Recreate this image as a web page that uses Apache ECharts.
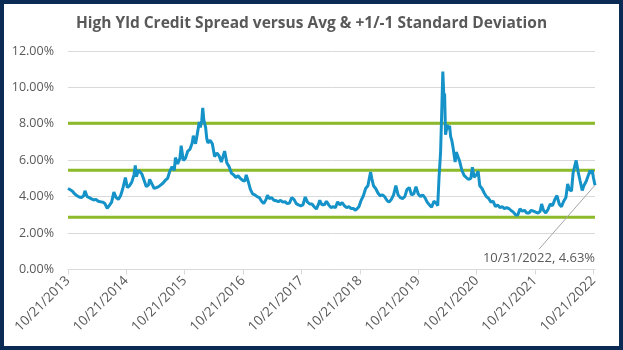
<!DOCTYPE html>
<html>
<head>
<meta charset="utf-8">
<script src="https://cdn.jsdelivr.net/npm/echarts@6/dist/echarts.min.js"></script>
<style>
  html, body { margin: 0; padding: 0; background: #ffffff; }
  #wrap { position: relative; width: 623px; height: 350px; }
  #chart { position: absolute; left: 0; top: 0; width: 623px; height: 350px; }
  #frame { position: absolute; left: 0; top: 0; width: 623px; height: 350px;
           box-sizing: border-box; border: 4px solid #0b2b55; pointer-events: none; }
</style>
</head>
<body>
<div id="wrap">
  <div id="chart"></div>
  <div id="frame"></div>
</div>
<script>
// High-yield option-adjusted spread, percent (roughly bi-weekly readings)
const dates = [
  '2013-10-21','2013-11-04','2013-11-18','2013-12-02','2013-12-16','2013-12-30',
  '2014-01-13','2014-01-27','2014-02-04','2014-02-18','2014-03-03','2014-03-17','2014-03-31',
  '2014-04-14','2014-04-28','2014-05-12','2014-05-26','2014-06-09','2014-06-23','2014-07-07',
  '2014-07-21','2014-08-04','2014-08-18','2014-09-01','2014-09-15','2014-09-29','2014-10-06',
  '2014-10-15','2014-10-27','2014-11-10','2014-11-24','2014-12-08','2014-12-16','2014-12-23',
  '2015-01-05','2015-01-15','2015-01-26','2015-02-09','2015-02-23','2015-03-09','2015-03-16',
  '2015-03-30','2015-04-13','2015-04-27','2015-05-11','2015-05-25','2015-06-08','2015-06-22',
  '2015-07-06','2015-07-20','2015-08-03','2015-08-17','2015-08-24','2015-09-07','2015-09-21',
  '2015-09-29','2015-10-12','2015-10-26','2015-11-09','2015-11-23','2015-12-07','2015-12-14',
  '2015-12-28','2016-01-11','2016-01-20','2016-01-27','2016-02-05','2016-02-11','2016-02-18',
  '2016-02-29','2016-03-07','2016-03-14','2016-03-28','2016-04-11','2016-04-25','2016-05-09',
  '2016-05-23','2016-06-06','2016-06-27','2016-07-11','2016-07-25','2016-08-08','2016-08-22',
  '2016-09-05','2016-09-19','2016-10-03','2016-10-17','2016-10-31','2016-11-09','2016-11-21',
  '2016-12-05','2016-12-19','2017-01-02','2017-01-16','2017-01-30','2017-02-13','2017-02-27',
  '2017-03-13','2017-03-22','2017-04-03','2017-04-17','2017-05-01','2017-05-15','2017-05-29',
  '2017-06-12','2017-06-26','2017-07-10','2017-07-24','2017-08-07','2017-08-21','2017-09-04',
  '2017-09-18','2017-10-02','2017-10-16','2017-10-30','2017-11-13','2017-11-27','2017-12-11',
  '2017-12-25','2018-01-08','2018-01-22','2018-02-05','2018-02-12','2018-02-26','2018-03-12',
  '2018-03-26','2018-04-09','2018-04-23','2018-05-07','2018-05-21','2018-06-04','2018-06-18',
  '2018-07-02','2018-07-16','2018-07-30','2018-08-13','2018-08-27','2018-09-10','2018-09-24',
  '2018-10-03','2018-10-15','2018-10-29','2018-11-12','2018-11-26','2018-12-10','2018-12-27',
  '2019-01-04','2019-01-14','2019-01-28','2019-02-11','2019-02-25','2019-03-11','2019-03-25',
  '2019-04-08','2019-04-22','2019-05-06','2019-05-20','2019-06-03','2019-06-17','2019-07-01',
  '2019-07-15','2019-07-29','2019-08-12','2019-08-26','2019-09-09','2019-09-23','2019-10-07',
  '2019-10-21','2019-11-04','2019-11-18','2019-12-02','2019-12-16','2019-12-30','2020-01-13',
  '2020-01-27','2020-02-10','2020-02-20','2020-02-28','2020-03-09','2020-03-16','2020-03-23',
  '2020-03-30','2020-04-03','2020-04-09','2020-04-20','2020-04-27','2020-05-04','2020-05-11',
  '2020-05-18','2020-05-26','2020-06-08','2020-06-15','2020-06-26','2020-07-06','2020-07-20',
  '2020-08-03','2020-08-17','2020-08-31','2020-09-14','2020-09-24','2020-10-05','2020-10-19',
  '2020-10-30','2020-11-09','2020-11-23','2020-12-07','2020-12-21','2021-01-04','2021-01-18',
  '2021-02-01','2021-02-15','2021-03-01','2021-03-15','2021-03-29','2021-04-12','2021-04-26',
  '2021-05-10','2021-05-24','2021-06-07','2021-06-21','2021-07-05','2021-07-19','2021-08-02',
  '2021-08-16','2021-08-30','2021-09-13','2021-09-27','2021-10-11','2021-10-25','2021-11-08',
  '2021-11-22','2021-12-01','2021-12-13','2021-12-27','2022-01-10','2022-01-24','2022-02-07',
  '2022-02-22','2022-03-07','2022-03-21','2022-04-04','2022-04-18','2022-05-02','2022-05-13',
  '2022-05-23','2022-06-06','2022-06-16','2022-06-27','2022-07-05','2022-07-18','2022-07-29',
  '2022-08-12','2022-08-22','2022-09-06','2022-09-16','2022-09-30','2022-10-07','2022-10-14',
  '2022-10-21','2022-10-31'
];
const spread = [
  4.45,4.38,4.30,4.15,4.05,3.98,
  3.95,4.05,4.32,4.00,3.95,3.88,3.82,
  3.85,3.75,3.72,3.70,3.62,3.36,3.52,
  3.70,4.25,3.95,3.85,4.05,4.45,4.35,
  5.05,4.50,4.60,4.80,5.20,5.72,5.10,
  5.45,5.40,5.25,4.90,4.55,4.65,4.95,
  4.70,4.45,4.50,4.55,4.65,4.75,4.90,
  5.00,5.40,5.65,5.45,6.15,5.80,6.10,
  6.80,6.00,6.10,6.50,6.60,6.95,7.35,
  6.90,7.60,8.10,7.80,8.20,8.87,8.20,
  7.80,7.20,6.95,7.10,6.90,6.20,6.40,
  6.25,5.90,6.50,5.85,5.65,5.30,5.20,
  5.05,5.15,5.00,4.90,4.85,5.20,4.85,
  4.40,4.15,4.10,4.00,3.95,3.75,3.62,
  3.85,4.08,3.90,3.95,3.80,3.78,3.72,
  3.80,3.70,3.72,3.62,3.65,3.95,3.85,
  3.62,3.55,3.50,3.55,3.98,3.70,3.60,
  3.60,3.45,3.32,3.60,3.80,3.55,3.55,
  3.75,3.55,3.40,3.45,3.40,3.72,3.55,
  3.68,3.50,3.40,3.45,3.35,3.35,3.25,
  3.18,3.45,3.80,4.05,4.45,4.60,5.35,
  5.00,4.60,4.45,4.20,4.05,4.10,4.00,
  3.80,3.70,3.85,4.10,4.61,4.10,3.95,
  3.90,4.00,4.40,4.50,4.10,4.15,4.55,
  4.15,4.00,4.10,3.95,3.70,3.55,3.42,
  3.75,3.65,3.50,5.00,6.45,8.60,10.87,
  9.40,9.67,7.40,7.95,7.70,7.90,7.30,
  7.10,6.70,5.90,6.45,6.35,5.95,5.45,
  5.17,5.05,4.95,5.00,5.62,5.07,5.20,
  5.40,4.60,4.45,4.20,4.00,3.90,3.70,
  3.75,3.45,3.55,3.40,3.45,3.35,3.40,
  3.35,3.24,3.15,3.00,3.00,3.33,3.20,
  3.25,3.10,3.10,3.25,3.20,3.15,3.10,
  3.20,3.60,3.25,3.10,3.30,3.60,3.50,
  3.85,4.06,3.60,3.45,3.75,3.95,4.70,
  4.40,4.30,5.30,5.70,5.99,5.35,4.90,
  4.34,4.60,4.85,4.95,5.44,5.25,5.45,
  5.05,4.63
];
// Long-run average and +/- one standard deviation levels, percent
const avgLine = 5.45;
const upperLine = 8.03;
const lowerLine = 2.87;
// Yearly date ticks on the horizontal axis
const tickLabels = [
  '10/21/2013','10/21/2014','10/21/2015','10/21/2016','10/21/2017',
  '10/21/2018','10/21/2019','10/21/2020','10/21/2021','10/21/2022'
];

const toTime = s => { const [y, m, d] = s.split('-').map(Number); return Date.UTC(y, m - 1, d); };
const fromLabel = s => { const [m, d, y] = s.split('/').map(Number); return Date.UTC(y, m - 1, d); };
const fmtDate = s => { const [y, m, d] = s.split('-').map(Number); return m + '/' + d + '/' + y; };

const times = dates.map(toTime);
const tickTimes = tickLabels.map(fromLabel);
const last = dates.length - 1;
const xMin = times[0];
const xMax = times[last];

const band = level => times.map(t => [t, level]);

const txt = '#595959';
const font = '"Open Sans", "Liberation Sans", sans-serif';

const chart = echarts.init(document.getElementById('chart'), null, { renderer: 'canvas' });
chart.setOption({
  animation: false,
  backgroundColor: '#ffffff',
  title: {
    text: 'High Yld Credit Spread versus Avg & +1/-1 Standard Deviation',
    left: 'center',
    top: 11,
    textStyle: { color: txt, fontSize: 15.5, fontWeight: 'bold', fontFamily: font }
  },
  grid: { left: 68, right: 28, top: 51, bottom: 80.5, containLabel: false },
  xAxis: {
    type: 'value',
    min: xMin,
    max: xMax,
    axisLine: { show: true, onZero: false, lineStyle: { color: '#d9d9d9', width: 1 } },
    axisTick: { show: true, length: 5, lineStyle: { color: '#d9d9d9' }, customValues: tickTimes },
    splitLine: { show: false },
    axisLabel: {
      customValues: tickTimes,
      rotate: 45,
      margin: 9,
      color: txt,
      fontSize: 13.5,
      fontFamily: font,
      formatter: v => tickLabels[tickTimes.indexOf(v)] || ''
    }
  },
  yAxis: {
    type: 'value',
    min: 0,
    max: 12,
    interval: 2,
    axisLine: { show: false },
    axisTick: { show: false },
    splitLine: { lineStyle: { color: '#d9d9d9', width: 1 } },
    axisLabel: {
      margin: 14,
      color: txt,
      fontSize: 12.5,
      fontFamily: font,
      formatter: v => v.toFixed(2) + '%'
    }
  },
  series: [
    { name: '+1 SD', type: 'line', data: band(upperLine), showSymbol: false, silent: true,
      lineStyle: { color: '#8dba2a', width: 3 } },
    { name: 'Average', type: 'line', data: band(avgLine), showSymbol: false, silent: true,
      lineStyle: { color: '#8dba2a', width: 3 } },
    { name: '-1 SD', type: 'line', data: band(lowerLine), showSymbol: false, silent: true,
      lineStyle: { color: '#8dba2a', width: 3 } },
    { name: 'HY Spread', type: 'line', data: times.map((t, i) => [t, spread[i]]),
      showSymbol: false, lineStyle: { color: '#1593c8', width: 3 }, z: 5 }
  ]
});

// Callout for the most recent reading: text placed below-left of the last
// point, joined to it by a thin leader line.
const calloutDx = -56;
const calloutDy = 73;
const [px, py] = chart.convertToPixel({ gridIndex: 0 }, [times[last], spread[last]]);
chart.setOption({
  graphic: [
    {
      type: 'line', z: 10, silent: true,
      shape: { x1: px, y1: py, x2: px + calloutDx, y2: py + calloutDy - 9 },
      style: { stroke: '#a6a6a6', lineWidth: 1 }
    },
    {
      type: 'text', z: 10, silent: true,
      x: px + calloutDx, y: py + calloutDy,
      style: {
        text: fmtDate(dates[last]) + ', ' + spread[last].toFixed(2) + '%',
        fill: txt, fontSize: 13, fontFamily: font,
        align: 'center', verticalAlign: 'middle'
      }
    }
  ]
});
</script>
</body>
</html>
